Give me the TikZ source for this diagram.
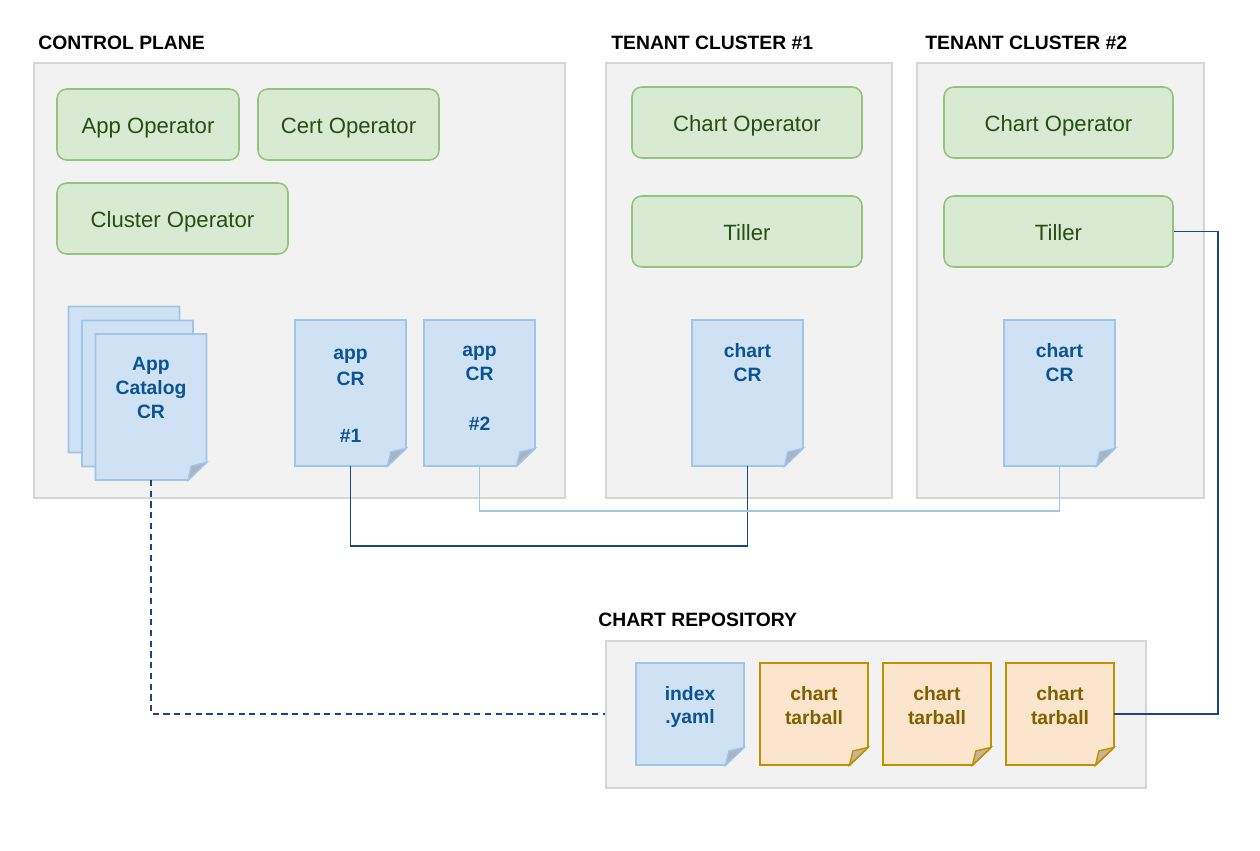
\documentclass[tikz,border=0pt]{standalone}
\usepackage{fontspec}
\setmainfont{Liberation Sans}
\usetikzlibrary{positioning}

\definecolor{panelfill}{HTML}{F2F2F2}
\definecolor{panelline}{HTML}{D6D6D6}
\definecolor{opfill}{HTML}{D9EAD3}
\definecolor{opline}{HTML}{93C47D}
\definecolor{optext}{HTML}{274E13}
\definecolor{docfill}{HTML}{CFE2F3}
\definecolor{docline}{HTML}{9FC5E8}
\definecolor{doctext}{HTML}{0B5394}
\definecolor{docfold}{HTML}{A9B4BF}
\definecolor{tarfill}{HTML}{FCE5CD}
\definecolor{tarline}{HTML}{BF9000}
\definecolor{tartext}{HTML}{7F6000}
\definecolor{tarfold}{HTML}{C9B49A}
\definecolor{darkwire}{HTML}{1C4587}
\definecolor{lightwire}{HTML}{9FC5E8}

\tikzset{
  panel/.style={rectangle, fill=panelfill, draw=panelline, line width=0.8pt},
  title/.style={anchor=west, inner sep=0pt, font=\bfseries\fontsize{11}{13}\selectfont},
  operator/.style={rectangle, rounded corners=5.5pt, fill=opfill, draw=opline, line width=0.9pt,
    minimum height=1.42cm, text height=10.6pt, text depth=0pt, text=optext,
    font=\fontsize{12.6}{14}\selectfont},
  doc/.style={rectangle, inner sep=0pt, outer sep=0pt, minimum width=2.22cm, minimum height=2.92cm},
  smalldoc/.style={doc, minimum width=2.16cm, minimum height=2.04cm},
  page/.style={line width=1pt, line join=miter},
  fold/.style={line width=0.8pt},
  doctext/.style={align=center, inner sep=0pt, text=doctext, font=\bfseries\fontsize{11}{13.6}\selectfont},
  tartext/.style={doctext, text=tartext},
  wire/.style={draw=darkwire, line width=0.85pt}
}

\begin{document}
\begin{tikzpicture}[x=0.02cm, y=-0.02cm]
  \useasboundingbox (0,0) rectangle (1260,850);

  % panels
  \node[panel, minimum width=10.62cm, minimum height=8.7cm] (cp) at (299.5,280.5) {};
  \node[panel, minimum width=5.72cm, minimum height=8.7cm] (tcone) at (749,280.5) {};
  \node[panel, minimum width=5.74cm, minimum height=8.7cm] (tctwo) at (1060.5,280.5) {};
  \node[panel, minimum width=10.8cm, minimum height=2.94cm] (repo) at (876,714.5) {};

  \node[title] (cptitle) at (38,43) {CONTROL PLANE};
  \node[title] (tconetitle) at (611,43) {TENANT CLUSTER \#1};
  \node[title] (tctwotitle) at (925,43) {TENANT CLUSTER \#2};
  \node[title] (repotitle) at (598,620) {CHART REPOSITORY};

  % operators
  \node[operator, minimum width=3.64cm] (appop) at (148,124.5) {App Operator};
  \node[operator, minimum width=3.62cm] (certop) at (348.5,124.5) {Cert Operator};
  \node[operator, minimum width=4.62cm] (clusterop) at (172.5,218.5) {Cluster Operator};
  \node[operator, minimum width=4.6cm] (chartopone) at (747,122.5) {Chart Operator};
  \node[operator, minimum width=4.6cm] (tillerone) at (747,231.5) {Tiller};
  \node[operator, minimum width=4.58cm] (chartoptwo) at (1058.5,122.5) {Chart Operator};
  \node[operator, minimum width=4.58cm] (tillertwo) at (1058.5,231.5) {Tiller};

  % custom resources and repository files
  \node[doc] (catback) at (124,379.5) {};
  \node[doc] (catmid) at (137.5,393.5) {};
  \node[doc] (catalog) at (151,407) {};
  \node[doc] (crone) at (350.5,393) {};
  \node[doc] (crtwo) at (479.5,393) {};
  \node[doc] (chartone) at (747.5,393) {};
  \node[doc] (charttwo) at (1059.5,393) {};
  \node[smalldoc] (idx) at (690,714) {};
  \node[smalldoc] (tarone) at (814,714) {};
  \node[smalldoc] (tartwo) at (937,714) {};
  \node[smalldoc] (tarthree) at (1060,714) {};

  % page outlines with folded corner
  \foreach \n in {catback,catmid,catalog,crone,crtwo,chartone,charttwo,idx}{
    \filldraw[page, fill=docfill, draw=docline] (\n.north west) -- (\n.north east)
      -- ([yshift=10pt]\n.south east) -- ([xshift=-10.5pt]\n.south east) -- (\n.south west) -- cycle;
    \filldraw[fold, fill=docfold, draw=docline] ([xshift=-10.5pt]\n.south east)
      -- ([yshift=10pt]\n.south east) -- ([xshift=-8.6pt,yshift=8pt]\n.south east) -- cycle;
  }
  \foreach \n in {tarone,tartwo,tarthree}{
    \filldraw[page, fill=tarfill, draw=tarline] (\n.north west) -- (\n.north east)
      -- ([yshift=10pt]\n.south east) -- ([xshift=-10.5pt]\n.south east) -- (\n.south west) -- cycle;
    \filldraw[fold, fill=tarfold, draw=tarline] ([xshift=-10.5pt]\n.south east)
      -- ([yshift=10pt]\n.south east) -- ([xshift=-8.6pt,yshift=8pt]\n.south east) -- cycle;
  }

  \node[doctext] (catalogtext) at (151,388) {App\\Catalog\\CR};
  \node[doctext] (cronetext) at (350.5,395.5) {app\\[1.6pt]CR\\[18.5pt]\#1};
  \node[doctext] (crtwotext) at (479.5,388.5) {app\\CR\\[15pt]\#2};
  \node[doctext] (chartonetext) at (747.5,363) {chart\\CR};
  \node[doctext] (charttwotext) at (1059.5,363) {chart\\CR};
  \node[doctext] (idxtext) at (690,707) {index\\.yaml};
  \node[tartext] (taronetext) at (814,706) {chart\\tarball};
  \node[tartext] (tartwotext) at (937,706) {chart\\tarball};
  \node[tartext] (tarthreetext) at (1060,706) {chart\\tarball};

  % links
  \draw[wire, dash pattern=on 3.5pt off 2.6pt] (catalog.south) |- (repo.west |- idx.west);
  \draw[wire] (crone.south) -- ++(0,80) -| (chartone.south);
  \draw[wire, draw=lightwire] (crtwo.south) -- ++(0,45) -| (charttwo.south);
  \draw[wire] (tillertwo.east) -- ++(44,0) |- (tarthree.east);
\end{tikzpicture}
\end{document}
